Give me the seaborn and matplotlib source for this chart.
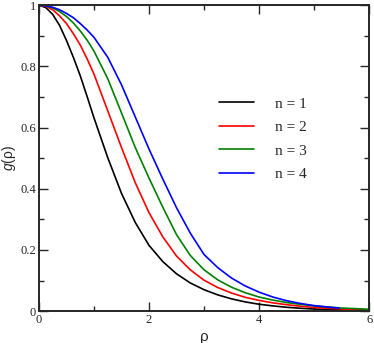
import pandas as pd
import matplotlib
matplotlib.use("Agg")
import matplotlib.pyplot as plt
import seaborn as sns
from matplotlib.ticker import MultipleLocator

# values
rho = [0, 0.125, 0.25, 0.375, 0.5, 0.625, 0.75, 0.875, 1.0, 1.25, 1.5, 1.75, 2.0,
       2.25, 2.5, 2.75, 3.0, 3.25, 3.5, 3.75, 4.0, 4.25, 4.5, 4.75, 5.0, 5.5, 6.0]
g_n1 = [1.0, 0.992, 0.970, 0.934, 0.885, 0.830, 0.770, 0.702, 0.632, 0.502, 0.385,
        0.290, 0.215, 0.162, 0.122, 0.092, 0.070, 0.053, 0.040, 0.030, 0.0225,
        0.017, 0.0125, 0.0093, 0.0068, 0.0037, 0.002]
g_n2 = [1.0, 0.996, 0.985, 0.965, 0.940, 0.907, 0.870, 0.825, 0.775, 0.655, 0.535,
        0.420, 0.322, 0.243, 0.180, 0.135, 0.101, 0.077, 0.059, 0.045, 0.035,
        0.027, 0.021, 0.016, 0.012, 0.007, 0.004]
g_n3 = [1.0, 0.998, 0.991, 0.979, 0.963, 0.942, 0.916, 0.886, 0.850, 0.760, 0.648,
        0.535, 0.435, 0.340, 0.250, 0.182, 0.135, 0.102, 0.078, 0.060, 0.046,
        0.036, 0.028, 0.022, 0.017, 0.010, 0.006]
rho_n4 = [0, 0.125, 0.25, 0.375, 0.5, 0.625, 0.75, 0.875, 1.0, 1.25, 1.5, 1.75, 2.0,
          2.25, 2.5, 2.75, 3.0, 3.25, 3.5, 3.75, 4.0, 4.25, 4.5, 4.75, 5.0, 5.25, 5.45]
g_n4 = [1.0, 0.998, 0.993, 0.985, 0.973, 0.959, 0.940, 0.919, 0.895, 0.830, 0.740,
        0.635, 0.530, 0.432, 0.338, 0.255, 0.185, 0.142, 0.108, 0.082, 0.062,
        0.046, 0.034, 0.025, 0.018, 0.013, 0.010]
labels = ["n = 1", "n = 2", "n = 3", "n = 4"]
colors = ["black", "red", "green", "blue"]

df = pd.concat([
    pd.DataFrame({"rho": rho, "g": g_n1, "n": labels[0]}),
    pd.DataFrame({"rho": rho, "g": g_n2, "n": labels[1]}),
    pd.DataFrame({"rho": rho, "g": g_n3, "n": labels[2]}),
    pd.DataFrame({"rho": rho_n4, "g": g_n4, "n": labels[3]}),
])

sns.set_style("ticks")
plt.rcParams["font.family"] = ["Liberation Serif", "DejaVu Serif"]
plt.rcParams["mathtext.fontset"] = "custom"
plt.rcParams["mathtext.it"] = "Liberation Sans:italic"
plt.rcParams["mathtext.rm"] = "Liberation Sans"

fig = plt.figure(figsize=(3.74, 3.43), dpi=100)
ax = fig.add_axes([0.104, 0.093, 0.883, 0.892])

sns.lineplot(data=df, x="rho", y="g", hue="n", palette=colors, ax=ax,
             linewidth=1.2, sort=True, estimator=None)

ax.set_xlim(0, 6)
ax.set_ylim(0, 1)
ax.xaxis.set_major_locator(MultipleLocator(2))
ax.xaxis.set_minor_locator(MultipleLocator(1))
ax.yaxis.set_major_locator(MultipleLocator(0.2))
ax.yaxis.set_minor_locator(MultipleLocator(0.1))
ax.xaxis.set_major_formatter(plt.FuncFormatter(lambda v, p: f"{v:g}"))
ax.yaxis.set_major_formatter(plt.FuncFormatter(lambda v, p: f"{v:g}"))
ax.tick_params(which="both", direction="in", top=True, right=True, labelsize=9, width=1)
ax.tick_params(which="major", length=6.5, pad=2)
ax.tick_params(which="minor", length=3.5)
for s in ax.spines.values():
    s.set_linewidth(1.4)

ax.set_xlabel("ρ", family="Liberation Sans", fontsize=11, labelpad=3)
ax.set_ylabel(r"$g$(ρ)", family="Liberation Sans", fontsize=10, labelpad=2)

ax.legend(frameon=False, loc="upper left", bbox_to_anchor=(0.545, 0.70),
          borderaxespad=0, borderpad=0, fontsize=11, handlelength=2.3,
          handletextpad=1.4, labelspacing=0.64)

fig.savefig("out.png", dpi=100)
